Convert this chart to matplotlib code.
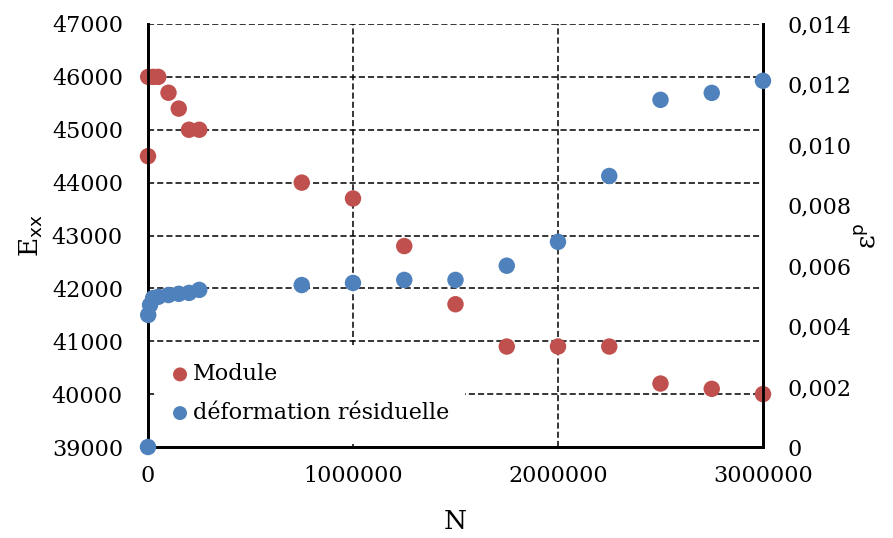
import matplotlib
matplotlib.use("Agg")
import matplotlib.pyplot as plt
from matplotlib.ticker import FuncFormatter, MultipleLocator
from matplotlib.patches import Rectangle

plt.rcParams['font.family'] = ['DejaVu Serif']

# Module (left axis)
n_mod = [0, 1000, 25000, 50000, 100000, 150000, 200000, 250000, 750000, 1000000,
         1250000, 1500000, 1750000, 2000000, 2250000, 2500000, 2750000, 3000000]
module = [44500, 46000, 46000, 46000, 45700, 45400, 45000, 45000, 44000, 43700,
          42800, 41700, 40900, 40900, 40900, 40200, 40100, 40000]

# Déformation résiduelle (right axis)
n_def = [0, 1000, 10000, 25000, 50000, 100000, 150000, 200000, 250000, 750000, 1000000,
         1250000, 1500000, 1750000, 2000000, 2250000, 2500000, 2750000, 3000000]
deformation = [0.0, 0.00437, 0.0047, 0.00493, 0.00497, 0.00503, 0.00507, 0.0051, 0.0052,
               0.00536, 0.00543, 0.00553, 0.00553, 0.0060, 0.00679, 0.00897, 0.01149,
               0.01172, 0.01212]

red = '#C0504D'
blue = '#4F81BD'

fig = plt.figure(figsize=(8.93, 5.38), dpi=100)
ax = fig.add_axes([148/893, 1-447/538, (763-148)/893, (447-24)/538])
ax2 = ax.twinx()

ax.set_xlim(0, 3000000)
ax.set_ylim(39000, 47000)
ax2.set_ylim(0, 0.014)

ax.yaxis.set_major_locator(MultipleLocator(1000))
ax.xaxis.set_major_locator(MultipleLocator(1000000))
ax2.yaxis.set_major_locator(MultipleLocator(0.002))
ax2.yaxis.set_major_formatter(FuncFormatter(lambda v, p: '0' if abs(v) < 1e-12 else f'{v:.3f}'.replace('.', ',')))
ax.xaxis.set_major_formatter(FuncFormatter(lambda v, p: f'{int(round(v))}'))
ax.yaxis.set_major_formatter(FuncFormatter(lambda v, p: f'{int(round(v))}'))

ax.grid(True, which='major', color='black', linestyle=(0, (4, 2)), linewidth=1.1)
ax.set_axisbelow(True)

for a in (ax, ax2):
    a.tick_params(length=0, labelsize=16)
    for s in ('left', 'bottom', 'right'):
        a.spines[s].set_linewidth(2)
        a.spines[s].set_color('black')
    a.spines['top'].set_visible(False)
    for s in a.spines.values():
        s.set_clip_on(False)
ax.tick_params(axis='y', pad=18)
ax.tick_params(axis='x', pad=13)
ax2.tick_params(axis='y', pad=18)

# white legend background box
ax2.add_patch(Rectangle((0.015, 0.006), 0.5, 0.235, transform=ax2.transAxes,
                        facecolor='white', edgecolor='none', zorder=1))

l1 = ax.scatter(n_mod, module, s=140, color=red, zorder=3, clip_on=False, label='Module', edgecolors='none')
l2 = ax2.scatter(n_def, deformation, s=140, color=blue, zorder=3, clip_on=False, label='déformation résiduelle', edgecolors='none')

ax.set_xlabel('N', fontsize=19, labelpad=16)
ax.set_ylabel(r'E$_{\mathrm{xx}}$', fontsize=19, labelpad=5)
ax2.set_ylabel(r'ε$^{\mathrm{p}}$', fontsize=19, labelpad=2)

leg = ax2.legend(handles=[l1, l2], loc='upper left', bbox_to_anchor=(0.034, 0.198),
                 frameon=False, fontsize=16, handletextpad=0.1, markerscale=0.85,
                 borderaxespad=0, borderpad=0, labelspacing=0.75, handlelength=1.0)
leg.set_zorder(5)

fig.savefig('out.png', dpi=100)
